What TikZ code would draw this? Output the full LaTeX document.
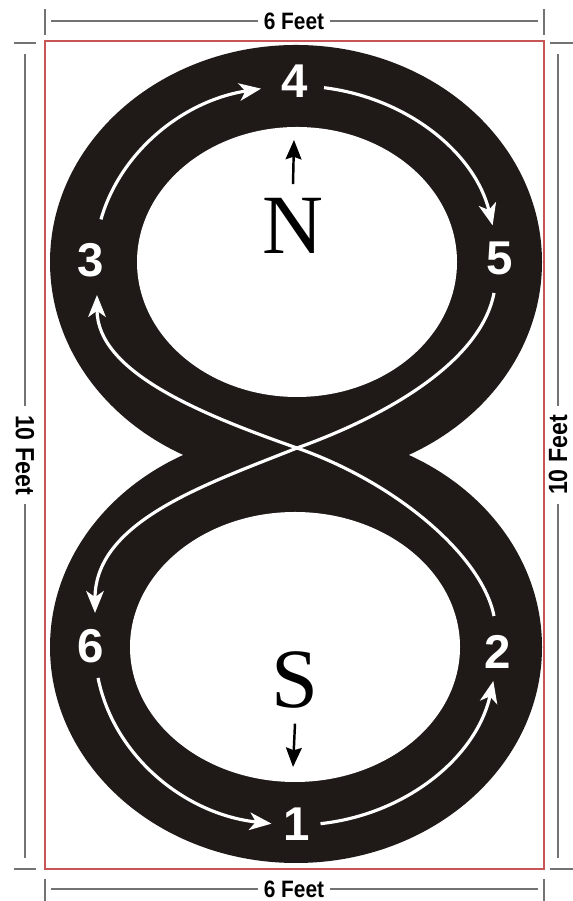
\documentclass[tikz,border=0pt]{standalone}
\usepackage{fontspec}
\setmainfont{Liberation Serif}
\newfontfamily\digitfont{Liberation Sans}
\newfontfamily\dimfont{Liberation Sans}[FakeStretch=0.88]
\usetikzlibrary{arrows.meta}
\definecolor{trackblack}{RGB}{31,26,23}
\definecolor{borderred}{RGB}{200,85,85}
\definecolor{dimgray}{RGB}{115,115,115}

\begin{document}
\begin{tikzpicture}[
  x=0.02cm, y=0.02cm,
  num/.style={font=\digitfont\bfseries\fontsize{27}{27}\selectfont, text=white, inner sep=0pt},
  pole/.style={font=\fontsize{48}{48}\selectfont, inner sep=0pt},
  dimtext/.style={font=\dimfont\bfseries\fontsize{13.5}{13.5}\selectfont, inner sep=3pt},
  sidetext/.style={font=\dimfont\bfseries\fontsize{15}{15}\selectfont, inner sep=5pt},
  lane/.style={draw=white, line width=1.8pt, -{Stealth[length=12.5pt, width=10pt, inset=3.5pt]}},
  dim/.style={draw=dimgray, line width=0.8pt},
  needle/.style={draw=black, line width=1.4pt, -{Stealth[length=11pt, width=9pt, inset=1.5pt]}}
]

\useasboundingbox (0,0) rectangle (573,901);

% Centres of the two loops
\coordinate (up) at (296,639);
\coordinate (lo) at (296,254);

% Border
\draw[borderred, line width=0.8pt] (45,32) rectangle (544,860);

% Track body, then the two holes
\fill[trackblack] (up) ellipse [x radius=246, y radius=217];
\fill[trackblack] (lo) ellipse [x radius=246, y radius=216];
\fill[white] (297,639) ellipse [x radius=160, y radius=135];
\fill[white] (295,254) ellipse [x radius=165, y radius=135];

% Lanes on the upper loop
\draw[lane] (up) ++(166:201 and 176) arc[start angle=166, end angle=100, x radius=201, y radius=176];
\draw[lane] (up) ++(82:201 and 176) arc[start angle=82, end angle=12, x radius=201, y radius=176];

% Lanes on the lower loop
\draw[lane] (lo) ++(190:201 and 178) arc[start angle=190, end angle=263, x radius=201, y radius=178];
\draw[lane] (lo) ++(277:201 and 178) arc[start angle=277, end angle=349, x radius=201, y radius=178];

% Crossing lanes
\coordinate (cross) at (297,453);
\coordinate (from5) at (494,608);
\coordinate (to6) at (95,288);
\coordinate (from2) at (494,285);
\coordinate (to3) at (97,606);
\draw[lane] (from5) .. controls (482,545) and (400,490) .. (cross) .. controls (207,417) and (95,380) .. (to6);
\draw[lane] (from2) .. controls (482,345) and (397,418) .. (cross) .. controls (197,488) and (97,530) .. (to3);

% Numbers
\node[num] (n1) at (297,77) {1};
\node[num] (n2) at (498,249) {2};
\node[num] (n3) at (91,641) {3};
\node[num] (n4) at (295,820) {4};
\node[num] (n5) at (500,643) {5};
\node[num] (n6) at (91,255) {6};

% Compass
\node[pole] (north) at (293,675) {N};
\node[pole] (south) at (295,221) {S};
\coordinate (ntip) at (294,761);
\coordinate (stip) at (293,134);
\draw[needle] ([yshift=0.28cm]north.north) -- (ntip);
\draw[needle] ([yshift=-0.3cm]south.south) -- (stip);

% Width, top
\node[dimtext] (topdim) at (294,880) {6 Feet};
\draw[dim] (45,866) -- (45,892);
\draw[dim] (544,866) -- (544,892);
\draw[dim] (51,880) -- (topdim.west);
\draw[dim] (topdim.east) -- (538,880);

% Width, bottom
\node[dimtext] (botdim) at (294,12) {6 Feet};
\draw[dim] (45,0) -- (45,22);
\draw[dim] (544,0) -- (544,22);
\draw[dim] (51,12) -- (botdim.west);
\draw[dim] (botdim.east) -- (538,12);

% Height, left
\node[sidetext, rotate=-90] (leftdim) at (25,446) {10 Feet};
\draw[dim] (14,858) -- (36,858);
\draw[dim] (14,32) -- (36,32);
\draw[dim] (25,847) -- (leftdim.west);
\draw[dim] (leftdim.east) -- (25,43);

% Height, right
\node[sidetext, rotate=90] (rightdim) at (558,446) {10 Feet};
\draw[dim] (550,858) -- (573,858);
\draw[dim] (550,32) -- (573,32);
\draw[dim] (558,43) -- (rightdim.west);
\draw[dim] (rightdim.east) -- (558,847);

\end{tikzpicture}
\end{document}
